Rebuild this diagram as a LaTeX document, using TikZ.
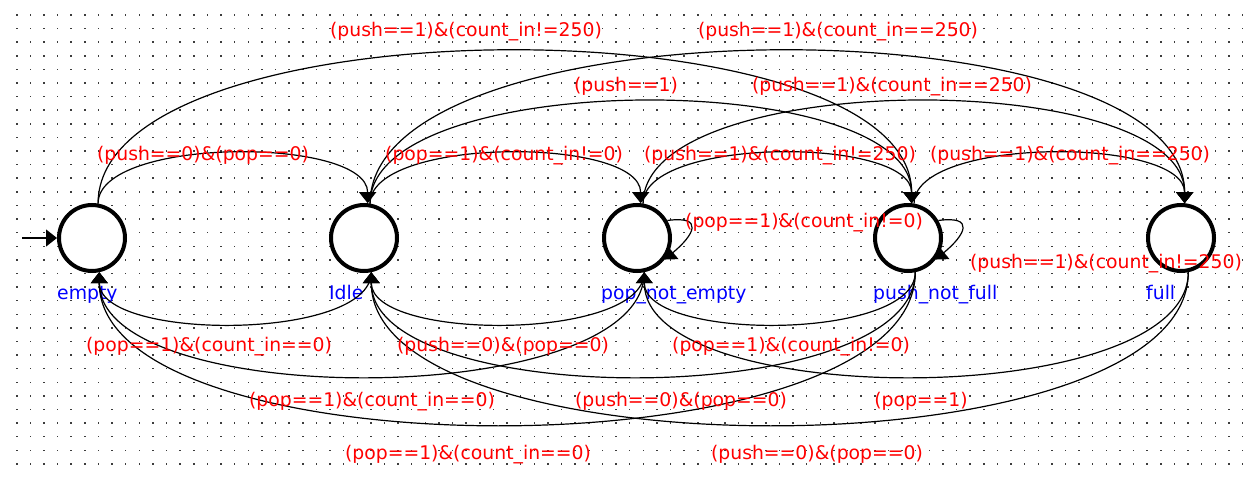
\documentclass[tikz,border=0pt]{standalone}
\usepackage{fontspec}
\setmainfont{DejaVu Sans}
\usetikzlibrary{arrows.meta,calc}
\definecolor{lblred}{RGB}{255,0,0}
\definecolor{nmblue}{RGB}{0,0,255}
\definecolor{dotc}{RGB}{60,60,60}
\begin{document}
\begin{tikzpicture}[x=1pt,y=-1pt,
  st/.style={circle,draw=black,line width=4pt,fill=white,minimum size=66pt,inner sep=0pt,outer sep=2pt},
  edge/.style={draw=black,line width=1.2pt,-{Triangle[width=17pt,length=11pt]}},
  lab/.style={text=lblred,font=\fontsize{18.8}{22}\selectfont,anchor=base,inner sep=0pt},
  nm/.style={text=nmblue,font=\fontsize{18.8}{22}\selectfont,anchor=base west,inner sep=0pt}]
\useasboundingbox (0,0) rectangle (1250,489);
\fill[white] (0,0) rectangle (1250,489);
% grid of dots
\foreach \i in {0,...,90}{\foreach \j in {0,...,33}{\fill[dotc] ({16+13.62*\i},{14.3+13.6*\j}) rectangle ++(1.5,1.5);}}
% states
\node[st] (e) at (92,238) {};
\node[st] (i) at (364,238) {};
\node[st] (p) at (637,238) {};
\node[st] (pf) at (908,238) {};
\node[st] (f) at (1181,238) {};
% state names
\node[nm] (ne) at (57,299) {empty};
\node[nm] (ni) at (329,299) {Idle};
\node[nm] (np) at (601,299) {pop\_not\_empty};
\node[nm] (npf) at (873,299) {push\_not\_full};
\node[nm] (nf) at (1146,299) {full};
% initial arrow
\coordinate (init) at (22,238);
\draw[edge] (init) -- (e.west);
% forward transitions (top)
\draw[edge] (e.80) .. controls ($(e.80)+(0,-67)$) and ($(i.84)+(0,-67)$) .. (i.84);
\draw[edge] (e.80) .. controls ($(e.80)+(0,-203)$) and ($(pf.84)+(0,-203)$) .. (pf.84);
\draw[edge] (i.80) .. controls ($(i.80)+(0,-67)$) and ($(p.84)+(0,-67)$) .. (p.84);
\draw[edge] (i.80) .. controls ($(i.80)+(0,-136)$) and ($(pf.84)+(0,-136)$) .. (pf.84);
\draw[edge] (i.80) .. controls ($(i.80)+(0,-203)$) and ($(f.84)+(0,-203)$) .. (f.84);
\draw[edge] (p.80) .. controls ($(p.80)+(0,-67)$) and ($(pf.84)+(0,-67)$) .. (pf.84);
\draw[edge] (p.80) .. controls ($(p.80)+(0,-136)$) and ($(f.84)+(0,-136)$) .. (f.84);
\draw[edge] (pf.80) .. controls ($(pf.80)+(0,-67)$) and ($(f.84)+(0,-67)$) .. (f.84);
% self loops
\draw[edge] (p.30) .. controls ($(p.30)+(37,-5)$) and ($(p.-38)+(30,-25)$) .. (p.-38);
\draw[edge] (pf.30) .. controls ($(pf.30)+(37,-5)$) and ($(pf.-38)+(30,-25)$) .. (pf.-38);
% backward transitions (bottom)
\draw[edge] (i.-78) .. controls ($(i.-78)+(0,69)$) and ($(e.-78)+(0,69)$) .. (e.-78);
\draw[edge] (p.-78) .. controls ($(p.-78)+(0,69)$) and ($(i.-78)+(0,69)$) .. (i.-78);
\draw[edge] (pf.-78) .. controls ($(pf.-78)+(0,69)$) and ($(p.-78)+(0,69)$) .. (p.-78);
\draw[edge] (p.-78) .. controls ($(p.-78)+(0,139)$) and ($(e.-78)+(0,139)$) .. (e.-78);
\draw[edge] (pf.-78) .. controls ($(pf.-78)+(0,139)$) and ($(i.-78)+(0,139)$) .. (i.-78);
\draw[edge] (f.-78) .. controls ($(f.-78)+(0,139)$) and ($(p.-78)+(0,139)$) .. (p.-78);
\draw[edge] (pf.-78) .. controls ($(pf.-78)+(0,203)$) and ($(e.-78)+(0,203)$) .. (e.-78);
\draw[edge] (f.-78) .. controls ($(f.-78)+(0,203)$) and ($(i.-78)+(0,203)$) .. (i.-78);
% labels
\node[lab] (l1) at (466,37) {(push==1)\&(count\_in!=250)};
\node[lab] (l2) at (838,37) {(push==1)\&(count\_in==250)};
\node[lab] (l3) at (626,92) {(push==1)};
\node[lab] (l4) at (892,92) {(push==1)\&(count\_in==250)};
\node[lab] (l5) at (203,161) {(push==0)\&(pop==0)};
\node[lab] (l6) at (504,161) {(pop==1)\&(count\_in!=0)};
\node[lab] (l7) at (780,161) {(push==1)\&(count\_in!=250)};
\node[lab] (l8) at (1070,161) {(push==1)\&(count\_in==250)};
\node[lab] (l9) at (804,228) {(pop==1)\&(count\_in!=0)};
\node[lab] (l10) at (1106,269) {(push==1)\&(count\_in!=250)};
\node[lab] (l11) at (209,351) {(pop==1)\&(count\_in==0)};
\node[lab] (l12) at (503,351) {(push==0)\&(pop==0)};
\node[lab] (l13) at (791,351) {(pop==1)\&(count\_in!=0)};
\node[lab] (l14) at (372,406) {(pop==1)\&(count\_in==0)};
\node[lab] (l15) at (681,406) {(push==0)\&(pop==0)};
\node[lab] (l16) at (921,406) {(pop==1)};
\node[lab] (l17) at (468,459) {(pop==1)\&(count\_in==0)};
\node[lab] (l18) at (817,459) {(push==0)\&(pop==0)};
\end{tikzpicture}
\end{document}
